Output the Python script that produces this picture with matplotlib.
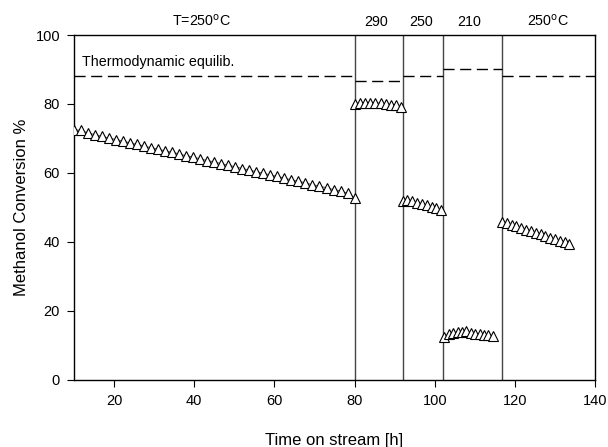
import matplotlib
matplotlib.use("Agg")
import matplotlib.pyplot as plt

plt.rcParams['font.family'] = ['Liberation Sans', 'DejaVu Sans']

# Segment 1: T=250 C
t1 = [10.0, 11.75, 13.5, 15.25, 17.0, 18.75, 20.5, 22.25, 24.0, 25.75, 27.5, 29.25, 31.0,
      32.75, 34.5, 36.25, 38.0, 39.75, 41.5, 43.25, 45.0, 46.75, 48.5, 50.25, 52.0, 53.75,
      55.5, 57.25, 59.0, 60.75, 62.5, 64.25, 66.0, 67.75, 69.5, 71.25, 73.0, 74.75, 76.5,
      78.25, 80.0]
c1 = [72.5, 72.4, 71.6, 71.1, 70.6, 70.1, 69.7, 69.2, 68.7, 68.3, 67.8, 67.3, 66.9,
      66.4, 66.0, 65.5, 65.0, 64.6, 64.1, 63.6, 63.2, 62.7, 62.2, 61.8, 61.3, 60.8,
      60.4, 59.9, 59.4, 59.0, 58.5, 58.0, 57.6, 57.1, 56.6, 56.2, 55.7, 55.2, 54.8,
      54.1, 52.8]
# Segment 2: 290 C
t2 = [80.0, 81.3, 82.6, 83.9, 85.2, 86.5, 87.8, 89.1, 90.4, 91.6]
c2 = [80.0, 80.3, 80.4, 80.3, 80.3, 80.2, 80.0, 79.8, 79.6, 79.2]
# Segment 3: 250 C
t3 = [92.0, 93.2, 94.4, 95.6, 96.8, 98.0, 99.2, 100.4, 101.6]
c3 = [51.8, 52.2, 51.8, 51.4, 51.0, 50.6, 50.2, 49.8, 49.3]
# Segment 4: 210 C
t4 = [102.4, 103.5, 104.6, 105.7, 106.8, 107.9, 109.0, 110.1, 111.2, 112.3, 113.4, 114.6]
c4 = [12.6, 13.2, 13.6, 13.8, 14.0, 14.1, 13.6, 13.4, 13.3, 13.1, 12.9, 12.7]
# Segment 5: 250 C
t5 = [116.8, 118.0, 119.2, 120.4, 121.6, 122.8, 124.0, 125.2, 126.4, 127.6, 128.8,
      130.0, 131.2, 132.4, 133.6]
c5 = [45.8, 45.4, 44.9, 44.5, 44.0, 43.6, 43.1, 42.7, 42.2, 41.8, 41.3, 40.9, 40.4,
      40.0, 39.4]

# Temperature change times and equilibrium conversion per period
switch_times = [80.0, 92.0, 102.0, 116.7]
eq_start = [10.0, 80.0, 92.0, 102.0, 116.7]
eq_end = [80.0, 92.0, 102.0, 116.7, 140.0]
eq_values = [88.0, 86.7, 88.1, 90.0, 88.1]

period_labels = ['T=250$^{\\rm o}$C', '290', '250', '210', '250$^{\\rm o}$C']
period_label_x = [41.8, 85.5, 96.5, 108.5, 128.3]

fig = plt.figure(figsize=(6.08, 4.47), dpi=100)
ax = fig.add_axes([0.1217, 0.1499, 0.857, 0.7718])

for t, c in [(t1, c1), (t2, c2), (t3, c3), (t4, c4), (t5, c5)]:
    ax.plot(t, c, color='#666666', lw=0.8, zorder=2)
    ax.plot(t, c, linestyle='none', marker='^', markersize=7.5, markerfacecolor='white',
            markeredgecolor='black', markeredgewidth=0.8, zorder=3)

for xs in switch_times:
    ax.axvline(xs, color='#444444', lw=1.0, zorder=1)

for a, b, v in zip(eq_start, eq_end, eq_values):
    ax.plot([a, b], [v, v], color='black', lw=1.0, dashes=(8, 4), zorder=1)

ax.text(12.0, 90.0, 'Thermodynamic equilib.', fontsize=10.3, ha='left', va='bottom')

for lbl, xp in zip(period_labels, period_label_x):
    ax.text(xp, 102.6, lbl, fontsize=10.3, ha='center', va='baseline')

ax.set_xlim(10, 140)
ax.set_ylim(0, 100)
ax.set_xticks([20, 40, 60, 80, 100, 120, 140])
ax.set_yticks([0, 20, 40, 60, 80, 100])
ax.tick_params(direction='out', length=5, width=0.8, labelsize=10.5, pad=5,
               top=False, right=False)
for s in ax.spines.values():
    s.set_linewidth(1.0)
ax.set_xlabel('Time on stream [h]', fontsize=12, labelpad=18)
ax.set_ylabel('Methanol Conversion %', fontsize=12, labelpad=5)

fig.savefig('out.png', dpi=100)
